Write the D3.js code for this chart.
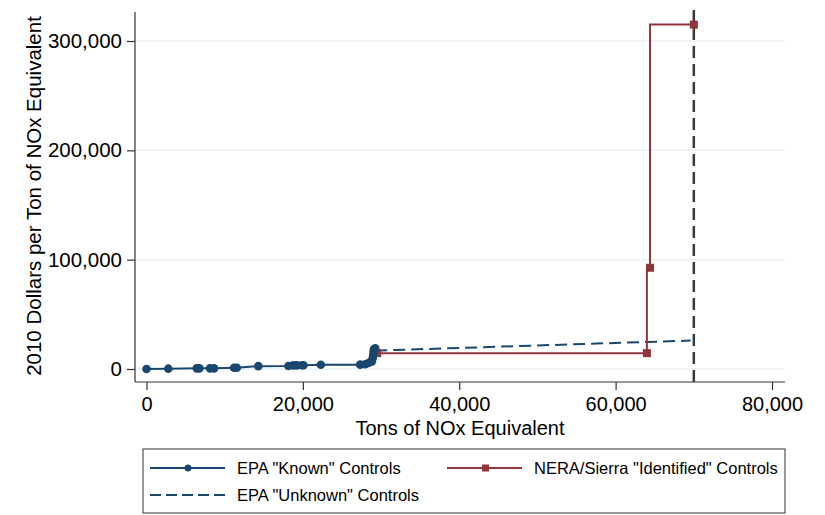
<!DOCTYPE html>
<html>
<head>
<meta charset="utf-8">
<script src="https://cdn.jsdelivr.net/npm/d3@7"></script>
<style>
  html, body { margin: 0; padding: 0; background: #fff; }
  svg { display: block; font-family: "Liberation Sans", Arial, sans-serif; }
</style>
</head>
<body>
<svg id="chart" width="825" height="515"></svg>
<script>
// ---- data ----
const knownX = [0, 2790, 6430, 6760, 8130, 8640, 11200, 11550, 14300, 18150, 18790, 19230, 19870, 20070, 22300, 27330, 27970, 28390, 28830, 28930, 29000, 29050, 29100, 29250];
const knownY = [0, 300, 600, 600, 600, 600, 1200, 1200, 2600, 2700, 3300, 3300, 3400, 3400, 3900, 4000, 4400, 5500, 7000, 10000, 13000, 16000, 18000, 19000];
const identifiedX = [29500, 64000, 64400, 70000];
const identifiedY = [14500, 14500, 92600, 315000];
const unknownX = [29250, 69600];
const unknownY = [16800, 26000];
const capX = 70000;
const xTicks = [0, 20000, 40000, 60000, 80000];
const yTicks = [0, 100000, 200000, 300000];
const legendLabels = ['EPA "Known" Controls', 'NERA/Sierra "Identified" Controls', 'EPA "Unknown" Controls'];
const xTitle = "Tons of NOx Equivalent";
const yTitle = "2010 Dollars per Ton of NOx Equivalent";

const blue = "#1a476f", red = "#90353b", grid = "#eaf2f3", axisC = "#333";
const svg = d3.select("#chart");
const x = d3.scaleLinear().domain([0, 80000]).range([146.5, 772]);
const y = d3.scaleLinear().domain([0, 300000]).range([369, 41]);
const pLeft = 135, pRight = 785, pTop = 12, pBottom = 382;
const fmt = d3.format(",");

// gridlines
svg.append("g").selectAll("line").data(yTicks).join("line")
  .attr("x1", pLeft).attr("x2", pRight).attr("y1", d => y(d)).attr("y2", d => y(d))
  .attr("stroke", grid).attr("stroke-width", 1.5);

// axes
const yAxis = svg.append("g").attr("transform", `translate(${pLeft},0)`)
  .call(d3.axisLeft(y).tickValues(yTicks).tickFormat(fmt).tickSize(8).tickPadding(5));
yAxis.select(".domain").remove();
yAxis.selectAll("line").attr("stroke", axisC).attr("stroke-width", 1.2);
yAxis.selectAll("text").attr("font-size", "20.5px").attr("fill", "#000").attr("font-family", "Liberation Sans, Arial, sans-serif");

const xAxis = svg.append("g").attr("transform", `translate(0,${pBottom})`)
  .call(d3.axisBottom(x).tickValues(xTicks).tickFormat(fmt).tickSize(8).tickPadding(7));
xAxis.select(".domain").remove();
xAxis.selectAll("line").attr("stroke", axisC).attr("stroke-width", 1.2);
xAxis.selectAll("text").attr("font-size", "20px").attr("fill", "#000").attr("font-family", "Liberation Sans, Arial, sans-serif");

svg.append("line").attr("x1", pLeft).attr("x2", pLeft).attr("y1", pTop).attr("y2", pBottom)
  .attr("stroke", axisC).attr("stroke-width", 1.2);
svg.append("line").attr("x1", pLeft).attr("x2", pRight).attr("y1", pBottom).attr("y2", pBottom)
  .attr("stroke", axisC).attr("stroke-width", 1.2);

// titles
svg.append("text").attr("x", (pLeft + pRight) / 2).attr("y", 434.5).attr("text-anchor", "middle")
  .attr("font-size", "20px").text(xTitle);
svg.append("text").attr("transform", "translate(41,196) rotate(-90)").attr("text-anchor", "middle")
  .attr("font-size", "20.5px").text(yTitle);

// vertical cap line
svg.append("line").attr("x1", x(capX)).attr("x2", x(capX)).attr("y1", 10).attr("y2", pBottom)
  .attr("stroke", "#3a3a3a").attr("stroke-width", 2.5).attr("stroke-dasharray", "12,6");

// unknown dashed
const unknown = unknownX.map((d, i) => [d, unknownY[i]]);
svg.append("path").datum(unknown)
  .attr("d", d3.line().x(d => x(d[0])).y(d => y(d[1])))
  .attr("fill", "none").attr("stroke", blue).attr("stroke-width", 2).attr("stroke-dasharray", "12,6");

// identified step line
const ident = identifiedX.map((d, i) => [d, identifiedY[i]]);
svg.append("path").datum(ident)
  .attr("d", d3.line().curve(d3.curveStepBefore).x(d => x(d[0])).y(d => y(d[1])))
  .attr("fill", "none").attr("stroke", red).attr("stroke-width", 2);
svg.append("g").selectAll("rect").data(ident).join("rect")
  .attr("x", d => x(d[0]) - 4).attr("y", d => y(d[1]) - 4).attr("width", 8).attr("height", 8)
  .attr("fill", red);

// known line
const known = knownX.map((d, i) => [d, knownY[i]]);
svg.append("path").datum(known)
  .attr("d", d3.line().x(d => x(d[0])).y(d => y(d[1])))
  .attr("fill", "none").attr("stroke", blue).attr("stroke-width", 2);
svg.append("g").selectAll("circle").data(known).join("circle")
  .attr("cx", d => x(d[0])).attr("cy", d => y(d[1])).attr("r", 4.3).attr("fill", blue);

// legend
const lg = svg.append("g");
lg.append("rect").attr("x", 143).attr("y", 449).attr("width", 642).attr("height", 64)
  .attr("fill", "#fff").attr("stroke", "#333").attr("stroke-width", 1);
const rows = [
  {x0: 150, yy: 468, color: blue, dash: null, marker: "circle", label: legendLabels[0]},
  {x0: 447, yy: 468, color: red, dash: null, marker: "square", label: legendLabels[1]},
  {x0: 150, yy: 495, color: blue, dash: "11,5", marker: null, label: legendLabels[2]}
];
rows.forEach(r => {
  lg.append("line").attr("x1", r.x0).attr("x2", r.x0 + 75).attr("y1", r.yy).attr("y2", r.yy)
    .attr("stroke", r.color).attr("stroke-width", 2).attr("stroke-dasharray", r.dash);
  if (r.marker === "circle") lg.append("circle").attr("cx", r.x0 + 38).attr("cy", r.yy).attr("r", 3.5).attr("fill", r.color);
  if (r.marker === "square") lg.append("rect").attr("x", r.x0 + 35).attr("y", r.yy - 3.5).attr("width", 7).attr("height", 7).attr("fill", r.color);
  lg.append("text").attr("x", r.x0 + 87).attr("y", r.yy + 6).attr("font-size", "16.5px").text(r.label);
});
</script>
</body>
</html>
